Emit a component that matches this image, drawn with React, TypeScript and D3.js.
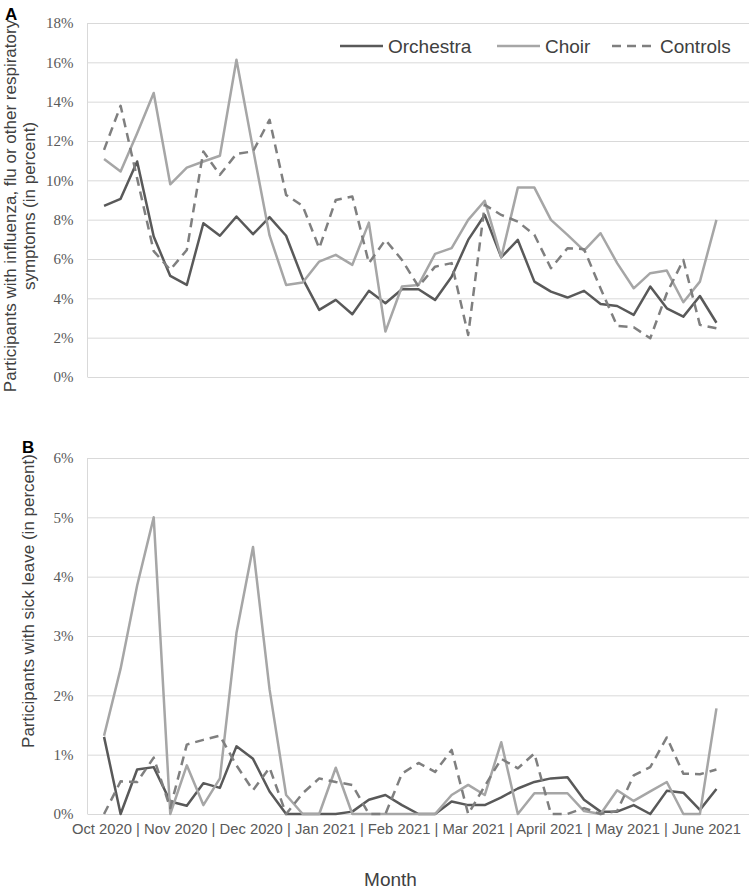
import React, { useEffect, useRef } from 'react';
import * as d3 from 'd3';

// month labels under the lower panel
const months = ['Oct 2020', 'Nov 2020', 'Dec 2020', 'Jan 2021', 'Feb 2021', 'Mar 2021', 'April 2021', 'May 2021', 'June 2021'];
const seriesNames = ['Orchestra', 'Choir', 'Controls'];

// Panel A: influenza, flu or other respiratory symptoms (%), weekly
const orchestraSymptoms = [8.7, 9.06, 10.96, 7.14, 5.14, 4.68, 7.82, 7.18, 8.16, 7.26, 8.13, 7.18, 5.0, 3.41, 3.92, 3.19, 4.38, 3.75, 4.46, 4.46, 3.92, 5.1, 6.97, 8.24, 6.09, 6.97, 4.85, 4.34, 4.04, 4.38, 3.71, 3.61, 3.16, 4.6, 3.49, 3.07, 4.12, 2.76];
const choirSymptoms = [11.08, 10.45, 12.4, 14.44, 9.8, 10.65, 10.96, 11.25, 16.13, 11.6, 7.2, 4.68, 4.8, 5.87, 6.21, 5.7, 7.85, 2.31, 4.6, 4.68, 6.26, 6.55, 7.99, 8.96, 6.09, 9.63, 9.63, 7.99, 7.23, 6.43, 7.31, 5.79, 4.51, 5.28, 5.41, 3.8, 4.85, 7.99];
const controlsSymptoms = [11.55, 13.79, 10.1, 6.4, 5.45, 6.46, 11.47, 10.28, 11.35, 11.47, 13.08, 9.26, 8.7, 6.55, 9.0, 9.18, 5.79, 6.97, 5.95, 4.6, 5.61, 5.79, 2.14, 8.75, 8.24, 7.9, 7.23, 5.53, 6.55, 6.5, 4.5, 2.6, 2.53, 1.97, 4.26, 5.95, 2.65, 2.48];

// Panel B: sick leave (%), weekly
const orchestraSick = [1.3, 0, 0.75, 0.79, 0.21, 0.14, 0.52, 0.44, 1.14, 0.93, 0.38, 0, 0, 0, 0, 0.04, 0.24, 0.32, 0.15, 0, 0, 0.21, 0.15, 0.15, 0.28, 0.43, 0.54, 0.6, 0.62, 0.24, 0.04, 0.04, 0.15, 0, 0.39, 0.36, 0.07, 0.42];
const choirSick = [1.32, 2.45, 3.85, 5.0, 0, 0.82, 0.15, 0.6, 3.05, 4.5, 2.1, 0.32, 0, 0, 0.78, 0, 0, 0, 0, 0, 0, 0.32, 0.49, 0.32, 1.21, 0, 0.35, 0.35, 0.35, 0.05, 0, 0.4, 0.22, 0.38, 0.54, 0, 0, 1.78];
const controlsSick = [0, 0.55, 0.54, 0.95, 0.1, 1.17, 1.25, 1.32, 0.82, 0.4, 0.78, 0, 0.35, 0.6, 0.54, 0.49, 0, 0, 0.68, 0.86, 0.71, 1.08, 0, 0.47, 0.93, 0.77, 1.02, 0, 0, 0.1, 0, 0.05, 0.65, 0.79, 1.29, 0.68, 0.67, 0.75];

const symptomTicks = [0, 2, 4, 6, 8, 10, 12, 14, 16, 18];
const sickTicks = [0, 1, 2, 3, 4, 5, 6];

const colors = ['#595959', '#a6a6a6', '#7f7f7f'];
const dashes = [null, null, '9,6'];

const App: React.FC = () => {
  const ref = useRef<SVGSVGElement>(null);

  useEffect(() => {
    const svg = d3.select(ref.current);
    svg.selectAll('*').remove();

    const left = 87.5;
    const right = 749;
    const x = d3.scalePoint<number>()
      .domain(d3.range(orchestraSymptoms.length))
      .range([left, 733])
      .padding(1);

    const drawPanel = (yScale: d3.ScaleLinear<number, number>, ticks: number[], data: number[][]) => {
      const g = svg.append('g');
      const [y0, y1] = yScale.range();

      const axis = g.append('g')
        .attr('transform', `translate(${left},0)`)
        .call(d3.axisLeft(yScale).tickValues(ticks).tickSize(-(right - left)).tickPadding(14).tickFormat(d => `${d}%`));
      axis.select('.domain').remove();
      axis.selectAll('line').attr('stroke', '#d9d9d9');
      axis.selectAll('text')
        .style('fill', '#595959')
        .style('font-family', '"Liberation Serif", "DejaVu Serif", serif')
        .style('font-size', '15px');

      g.append('line')
        .attr('x1', left).attr('x2', left)
        .attr('y1', y1).attr('y2', y0)
        .attr('stroke', '#d9d9d9');

      const line = d3.line<number>()
        .x((_, i) => x(i)!)
        .y(d => yScale(d));

      data.forEach((values, k) => {
        g.append('path')
          .datum(values)
          .attr('d', line)
          .attr('fill', 'none')
          .attr('stroke', colors[k])
          .attr('stroke-width', 2.5)
          .attr('stroke-linejoin', 'round')
          .attr('stroke-dasharray', dashes[k]);
      });
    };

    const yTop = d3.scaleLinear().domain([0, 18]).range([377, 23]);
    const yBottom = d3.scaleLinear().domain([0, 6]).range([814, 458]);

    drawPanel(yTop, symptomTicks, [orchestraSymptoms, choirSymptoms, controlsSymptoms]);
    drawPanel(yBottom, sickTicks, [orchestraSick, choirSick, controlsSick]);

    // legend
    const legendX = [340, 497, 612];
    const legend = svg.append('g');
    seriesNames.forEach((name, k) => {
      legend.append('line')
        .attr('x1', legendX[k]).attr('x2', legendX[k] + 43)
        .attr('y1', 46).attr('y2', 46)
        .attr('stroke', colors[k])
        .attr('stroke-width', 2.5)
        .attr('stroke-dasharray', dashes[k]);
      legend.append('text')
        .attr('x', legendX[k] + 48)
        .attr('y', 53)
        .text(name)
        .style('fill', '#404040')
        .style('font-family', '"Liberation Sans", Arial, sans-serif')
        .style('font-size', '19px');
    });

    const sans = '"Liberation Sans", Arial, sans-serif';

    // month labels and axis title
    svg.append('text')
      .attr('x', 406.5).attr('y', 834)
      .attr('text-anchor', 'middle')
      .text(months.join(' | '))
      .style('fill', '#595959')
      .style('font-family', sans)
      .style('font-size', '14.8px');

    svg.append('text')
      .attr('x', 390.5).attr('y', 886)
      .attr('text-anchor', 'middle')
      .text('Month')
      .style('fill', '#404040')
      .style('font-family', sans)
      .style('font-size', '19px');

    // y titles
    const yTitle = (tx: number, ty: number, label: string) =>
      svg.append('text')
        .attr('transform', `translate(${tx},${ty}) rotate(-90)`)
        .attr('text-anchor', 'middle')
        .text(label)
        .style('fill', '#404040')
        .style('font-family', sans)
        .style('font-size', '17px');

    yTitle(16, 206, 'Participants with influenza, flu or other respiratory');
    yTitle(35, 206, 'symptoms (in percent)');
    yTitle(34, 601, 'Participants with sick leave (in percent)');

    // panel letters
    [['A', 5, 20], ['B', 22, 453]].forEach(([t, lx, ly]) => {
      svg.append('text')
        .attr('x', lx as number).attr('y', ly as number)
        .text(t as string)
        .style('fill', '#000')
        .style('font-family', sans)
        .style('font-weight', 'bold')
        .style('font-size', '17px');
    });
  }, []);

  return <svg ref={ref} width={749} height={889} style={{ position: 'absolute', left: 0, top: 0, background: '#fff' }} />;
};

export default App;
